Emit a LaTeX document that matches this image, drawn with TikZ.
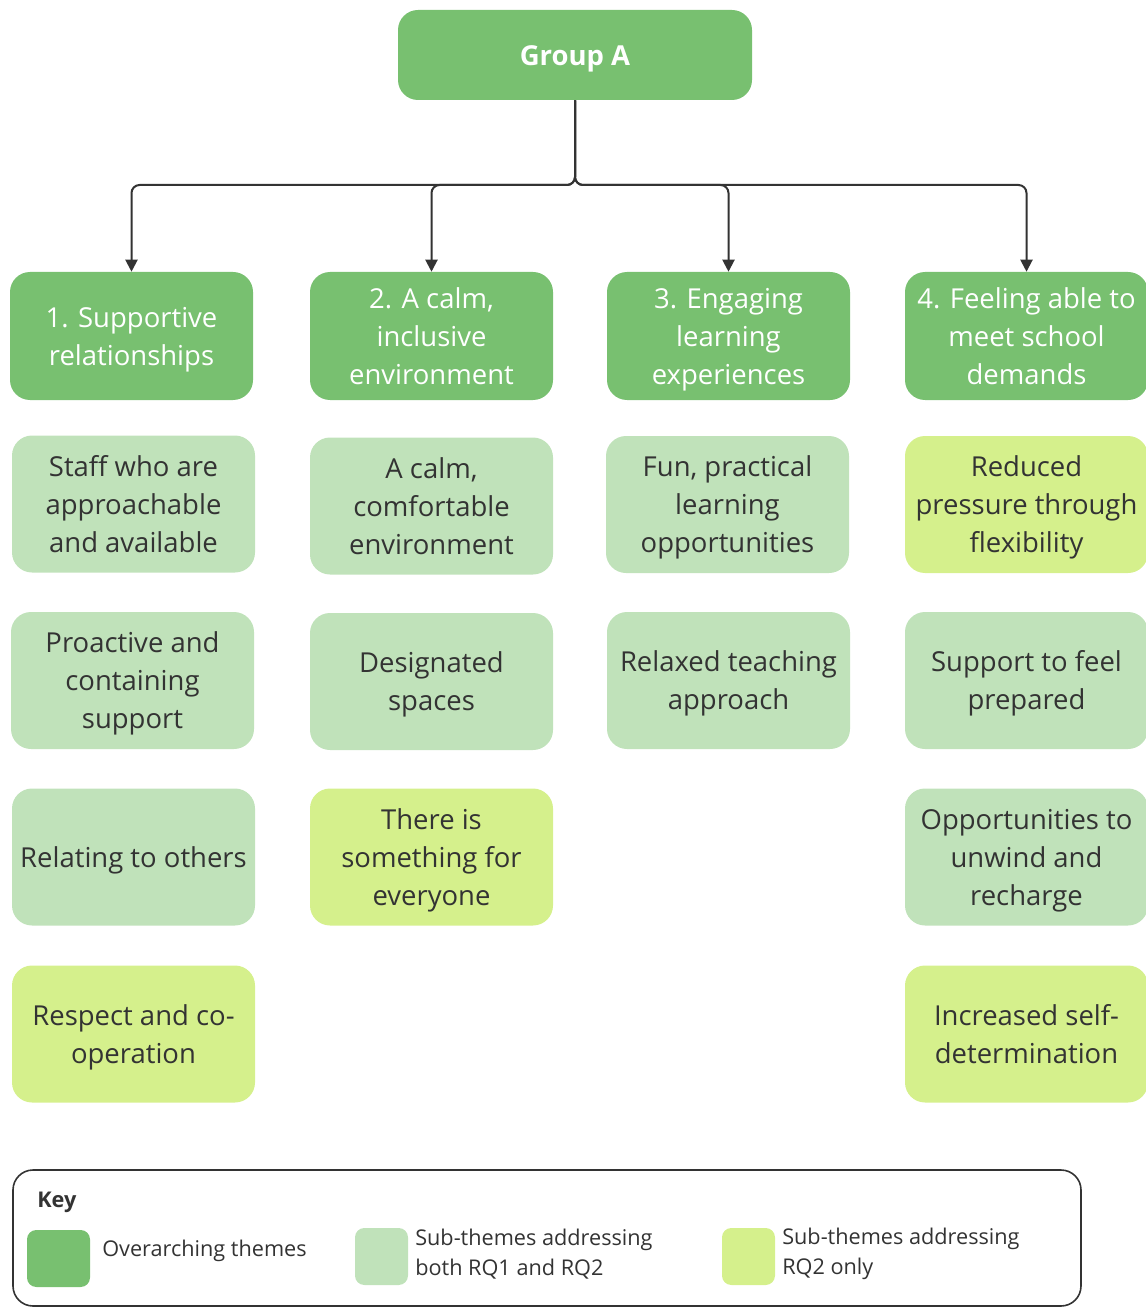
\documentclass[tikz,border=0pt]{standalone}
\usepackage{fontspec}
\setmainfont{Open Sans}
\usetikzlibrary{arrows.meta}
\definecolor{themegreen}{HTML}{78C070}
\definecolor{bothgreen}{HTML}{C0E2BA}
\definecolor{rqgreen}{HTML}{D5F08C}
\definecolor{ink}{HTML}{333333}
% centred block of lines, set on a fixed grid so every box places its text alike
\newcommand{\boxlines}[1]{\raisebox{-7.2pt}[0pt][0pt]{\begin{tabular}{@{}c@{}}#1\end{tabular}}}
\tikzset{
  box/.style={rounded corners=15pt, align=center, inner sep=0pt,
    minimum width=182.25pt, font=\fontsize{20.6}{28.5}\selectfont},
  theme/.style={box, fill=themegreen, text=white, minimum height=96pt},
  both/.style={box, fill=bothgreen, text=ink, minimum height=102.75pt},
  rqonly/.style={box, fill=rqgreen, text=ink, minimum height=102.75pt},
  link/.style={draw=ink, line width=1.5pt, rounded corners=6pt,
    -{Triangle[length=9pt,width=9pt]}},
  swatch/.style={rounded corners=7pt, minimum height=42.75pt, inner sep=0pt},
  keytext/.style={text=ink, align=left, anchor=west, inner sep=0pt,
    font=\fontsize{16.25}{23}\selectfont}
}
\begin{document}
\begin{tikzpicture}[x=0.75pt,y=-0.75pt]
\useasboundingbox (0,0) rectangle (1145,1308);

% root
\node[box, fill=themegreen, text=white, minimum width=265.5pt, minimum height=67.5pt,
  font=\fontsize{20.6}{28.5}\selectfont\bfseries] (grp) at (575,55) {\boxlines{Group A}};

% overarching themes
\node[theme] (t1) at (131.5,336) {\boxlines{1. Supportive\\relationships}};
\node[theme] (t2) at (431.5,336) {\boxlines{2. A calm,\\inclusive\\environment}};
\node[theme] (t3) at (728.5,336) {\boxlines{3. Engaging\\learning\\experiences}};
\node[theme] (t4) at (1026.5,336) {\boxlines{4. Feeling able to\\meet school\\demands}};

% junction of the tree
\coordinate (hub) at (575,185);
\foreach \t in {t1,t2,t3,t4}
  \draw[link] (grp.south) -- (hub) -| (\t.north);

% column 1
\node[both]   (a1) at (133.5,504) {\boxlines{Staff who are\\approachable\\and available}};
\node[both]   (a2) at (132.5,680.5) {\boxlines{Proactive and\\containing\\support}};
\node[both]   (a3) at (133.5,857) {\boxlines{Relating to others}};
\node[rqonly] (a4) at (133.5,1034) {\boxlines{Respect and co-\\operation}};

% column 2
\node[both]   (b1) at (431.5,506) {\boxlines{A calm,\\comfortable\\environment}};
\node[both]   (b2) at (431.5,681.5) {\boxlines{Designated\\spaces}};
\node[rqonly] (b3) at (431.5,857) {\boxlines{There is\\something for\\everyone}};

% column 3
\node[both]   (c1) at (727.5,504.5) {\boxlines{Fun, practical\\learning\\opportunities}};
\node[both]   (c2) at (728.5,680.5) {\boxlines{Relaxed teaching\\approach}};

% column 4
\node[rqonly] (d1) at (1026.5,504.5) {\boxlines{Reduced\\pressure through\\flexibility}};
\node[both]   (d2) at (1026.5,680.5) {\boxlines{Support to feel\\prepared}};
\node[both]   (d3) at (1026.5,857) {\boxlines{Opportunities to\\unwind and\\recharge}};
\node[rqonly] (d4) at (1026.5,1034) {\boxlines{Increased self-\\determination}};

% key
\draw[draw=ink, line width=1.2pt, rounded corners=15pt] (13,1170) rectangle (1081,1306);
\node[keytext, font=\fontsize{16.25}{23}\selectfont\bfseries] (key) at (37,1202) {Key};
\node[swatch, minimum width=47.25pt, fill=themegreen] (s1) at (58.5,1258.5) {};
\node[keytext] (k1) at (102,1251) {Overarching themes};
\node[swatch, minimum width=39.75pt, fill=bothgreen] (s2) at (381.5,1256.5) {};
\node[keytext] (k2) at (415,1254) {Sub-themes addressing\\both RQ1 and RQ2};
\node[swatch, minimum width=39.75pt, fill=rqgreen] (s3) at (748.5,1256.5) {};
\node[keytext] (k3) at (782,1254) {Sub-themes addressing\\RQ2 only};
\end{tikzpicture}
\end{document}
